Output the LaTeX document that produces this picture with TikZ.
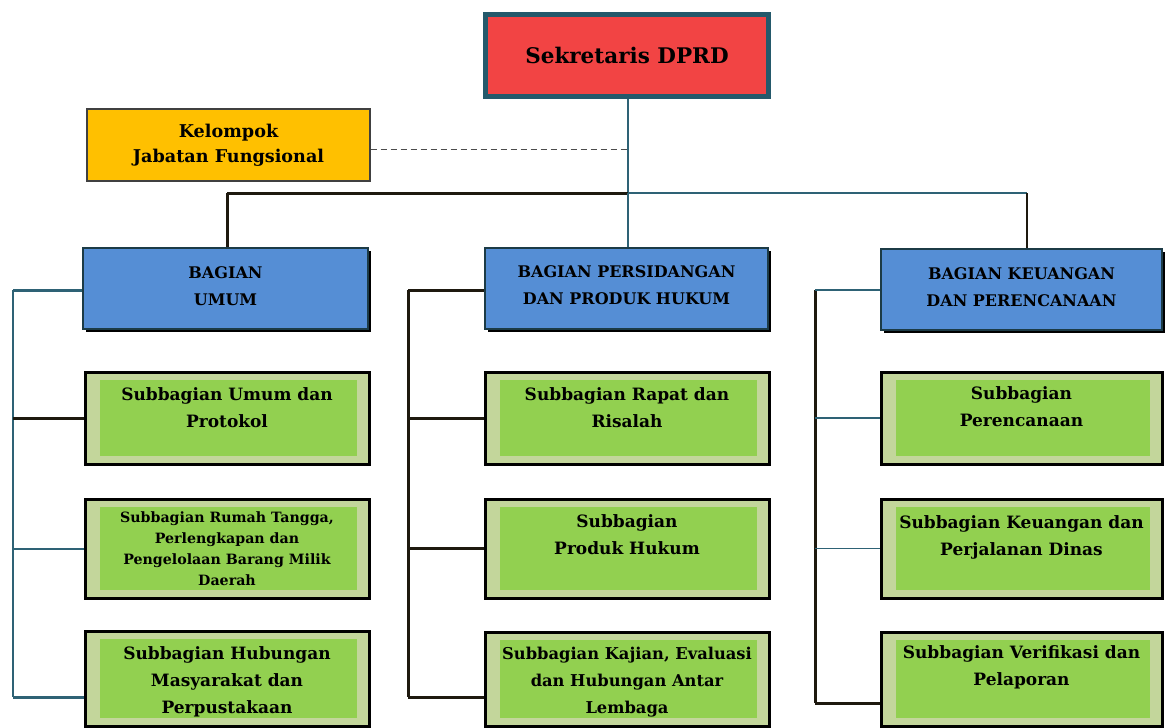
\documentclass[tikz,border=0pt]{standalone}
\usepackage{fontspec}
\setmainfont{DejaVu Serif}
\definecolor{topred}{RGB}{242,68,68}
\definecolor{topborder}{RGB}{36,89,107}
\definecolor{kjfyellow}{RGB}{255,192,0}
\definecolor{bagblue}{RGB}{85,142,213}
\definecolor{subout}{RGB}{195,214,155}
\definecolor{subin}{RGB}{146,208,80}
\definecolor{lineteal}{RGB}{46,98,117}
\definecolor{linedark}{RGB}{30,25,15}
\tikzset{
  topbox/.style={draw=topborder, line width=5pt, fill=topred, minimum width=283pt, minimum height=82pt, inner sep=0pt},
  kjfbox/.style={draw=black!75, line width=1.2pt, fill=kjfyellow, minimum width=283pt, minimum height=72pt, inner sep=0pt},
  bagbox/.style={draw=lineteal!60!black, line width=1.5pt, fill=bagblue, minimum height=81pt, inner sep=0pt},
  subbox/.style={draw=black, line width=3pt, fill=subout, inner sep=0pt},
  subtext/.style={align=center, font=\bfseries\fontsize{17}{27}\selectfont, inner sep=0pt},
  bagtext/.style={align=center, font=\bfseries\fontsize{16}{27}\selectfont, inner sep=0pt},
  tealline/.style={lineteal, line width=1.6pt},
  darkline/.style={linedark, line width=3pt},
}
\begin{document}
\begin{tikzpicture}[x=1pt,y=-1pt]
\useasboundingbox (0,0) rectangle (1165,728);

% top
\node[topbox, font=\bfseries\fontsize{21.5}{24}\selectfont] (top) at (627,55.5) {Sekretaris DPRD};
% kelompok
\node[kjfbox, align=center, font=\bfseries\fontsize{17.6}{25}\selectfont] (kjf) at (228.5,145) {Kelompok\\Jabatan Fungsional};

% bagian boxes
\foreach \n/\x/\y/\w in {bagL/225.5/288.5/285, bagM/626.5/288.5/283, bagR/1021.5/289.5/281}{
  \fill[black] (\x-\w/2+3,\y-40.5+3) rectangle (\x+\w/2+3,\y+40.5+3);
  \node[bagbox, minimum width=\w pt] (\n) at (\x,\y) {};
}
\node[bagtext] (tbagL) at (225.5,286) {BAGIAN\\UMUM};
\node[bagtext] (tbagM) at (626.5,285) {BAGIAN PERSIDANGAN\\DAN PRODUK HUKUM};
\node[bagtext] (tbagR) at (1021.5,287) {BAGIAN KEUANGAN\\DAN PERENCANAAN};

% sub boxes
\foreach \n/\x/\y/\w/\h in {sL1/227/418/284/92, sL2/227/548.5/284/99, sL3/227/678.5/284/95,
                            sM1/627/418/284/92, sM2/627/548.5/284/99, sM3/627/679/284/94,
                            sR1/1021.5/418/281/92, sR2/1021.5/548.5/281/99, sR3/1021.5/679/281/94}{
  \node[subbox, minimum width=\w pt, minimum height=\h pt] (\n) at (\x,\y) {};
  \fill[subin] ([xshift=16pt,yshift=-9pt]\n.north west) rectangle ([xshift=-14pt,yshift=10pt]\n.south east);
}
\node[subtext] (tL1) at (227,408) {Subbagian Umum dan\\Protokol};
\node[subtext, font=\bfseries\fontsize{14.2}{21}\selectfont] (tL2) at (227,549) {Subbagian Rumah Tangga,\\Perlengkapan dan\\Pengelolaan Barang Milik\\Daerah};
\node[subtext] (tL3) at (227,682) {Subbagian Hubungan\\Masyarakat dan\\Perpustakaan};
\node[subtext] (tM1) at (627,408) {Subbagian Rapat dan\\Risalah};
\node[subtext] (tM2) at (627,535) {Subbagian\\Produk Hukum};
\node[subtext, font=\bfseries\fontsize{16.3}{27}\selectfont] (tM3) at (627,682) {Subbagian Kajian, Evaluasi\\dan Hubungan Antar\\Lembaga};
\node[subtext] (tR1) at (1021.5,407) {Subbagian\\Perencanaan};
\node[subtext] (tR2) at (1021.5,537) {Subbagian Keuangan dan\\Perjalanan Dinas};
\node[subtext] (tR3) at (1021.5,667) {Subbagian Verifikasi dan\\Pelaporan};

% top connectors
\coordinate (jc) at (628,193);
\coordinate (jl) at (227,193);
\coordinate (jr) at (1027,193);
\draw[tealline] (top.south -| jc) -- (jc);
\draw[darkline] (jl) -- (jc);
\draw[tealline] (jc) -- (jr);
\draw[darkline] (jl) -- (jl |- bagL.north);
\draw[tealline] (jc) -- (jc |- bagM.north);
\draw[darkline, line width=2pt] (jr) -- (jr |- bagR.north);
\coordinate (kd) at (628,149);
\draw[black!70, line width=1pt, dash pattern=on 6pt off 4pt] (kjf.east |- kd) -- (kd);

% left bracket
\coordinate (lb1) at (13,290);
\coordinate (lb4) at (13,697);
\draw[tealline, line width=2pt] (lb1) -- (lb4);
\draw[tealline, line width=3pt] (lb1) -- (lb1 -| bagL.west);
\draw[darkline] (sL1.west -| lb1) -- (sL1.west);
\draw[tealline, line width=2pt] (sL2.west -| lb1) -- (sL2.west);
\draw[tealline, line width=3pt] (lb4) -- (lb4 -| sL3.west);

% middle bracket
\coordinate (mb1) at (408,290);
\coordinate (mb4) at (408,697);
\draw[darkline] (mb1) -- (mb4);
\draw[darkline] (mb1) -- (mb1 -| bagM.west);
\draw[darkline] (sM1.west -| mb1) -- (sM1.west);
\draw[darkline] (sM2.west -| mb1) -- (sM2.west);
\draw[darkline] (mb4) -- (mb4 -| sM3.west);

% right bracket
\coordinate (rb1) at (815,290);
\coordinate (rb4) at (815,703);
\draw[darkline] (rb1) -- (rb4);
\draw[tealline] (rb1) -- (rb1 -| bagR.west);
\draw[tealline] (sR1.west -| rb1) -- (sR1.west);
\draw[tealline] (sR2.west -| rb1) -- (sR2.west);
\draw[darkline] (rb4) -- (rb4 -| sR3.west);
\end{tikzpicture}
\end{document}
